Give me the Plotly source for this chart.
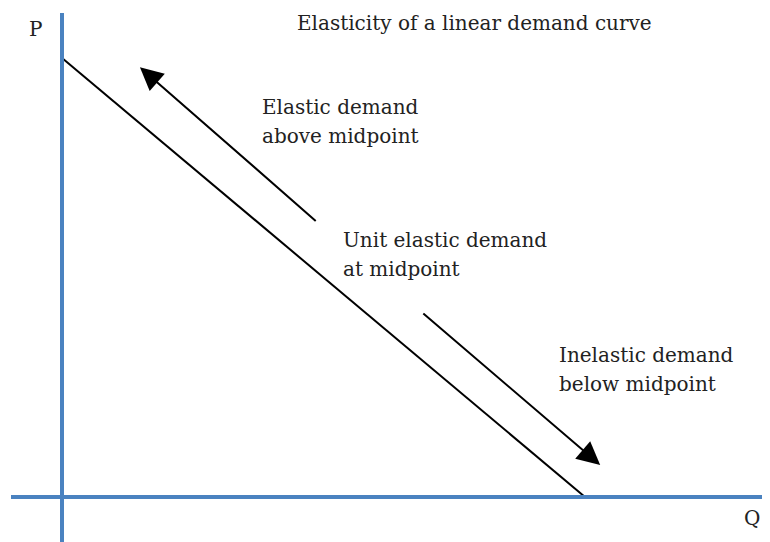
import plotly.graph_objects as go

OFF = 8  # page body margin offset of the rendered figure
W, H = 770 - OFF, 542 - OFF

# ---- data (economic units) ----
demand_q = [0, 10]          # quantity at the two ends of the linear demand curve
demand_p = [10, 0]          # price at the two ends
axis_label_p = "P"
axis_label_q = "Q"
title_text = "Elasticity of a linear demand curve"
label_upper = ["Elastic demand", "above midpoint"]
label_middle = ["Unit elastic demand", "at midpoint"]
label_lower = ["Inelastic demand", "below midpoint"]
# arrows: (tail_q, tail_p, head_q, head_p)
arrow_up = [4.88, 6.26, 1.49, 9.79]
arrow_down = [6.88, 4.21, 10.29, 0.73]

# ---- layout mapping (reference pixels -> figure pixels) ----
X0_PX, X1_PX = 62 - OFF, 585 - OFF      # pixel of Q=0 and Q=10
Y0_PX, Y1_PX = 497 - OFF, 58 - OFF      # pixel of P=0 and P=10
sx = (X1_PX - X0_PX) / 10.0
sy = (Y0_PX - Y1_PX) / 10.0
x_range = [(0 - X0_PX) / sx, (W - X0_PX) / sx]
y_range = [(Y0_PX - H) / sy, (Y0_PX - 0) / sy]

def qx(px):
    return (px - OFF - X0_PX) / sx

def py(pp):
    return (Y0_PX - (pp - OFF)) / sy

AXIS_BLUE = "#4a82c0"
FONT = "DejaVu Serif"
TXT = "#222222"

fig = go.Figure()

# demand line
fig.add_trace(go.Scatter(x=demand_q, y=demand_p, mode="lines",
                         line=dict(color="black", width=2), hoverinfo="skip",
                         showlegend=False, cliponaxis=False))

shapes = [
    dict(type="line", xref="x", yref="y", x0=0, x1=0, y0=py(H + 40), y1=py(13),
         line=dict(color=AXIS_BLUE, width=4)),
    dict(type="line", xref="x", yref="y", x0=qx(11), x1=qx(W + 40), y0=0, y1=0,
         line=dict(color=AXIS_BLUE, width=4)),
]

annotations = []
for a in (arrow_up, arrow_down):
    annotations.append(dict(x=a[2], y=a[3], ax=a[0], ay=a[1], xref="x", yref="y",
                            axref="x", ayref="y", text="", showarrow=True,
                            arrowhead=2, arrowsize=2.3, arrowwidth=2,
                            arrowcolor="black"))

def text_at(txt, xpx, ypx, size=20):
    annotations.append(dict(text=txt, x=qx(xpx), y=py(ypx), xref="x", yref="y",
                            xanchor="left", yanchor="middle", showarrow=False,
                            font=dict(family=FONT, size=size, color=TXT)))

text_at(title_text, 295, 23)
text_at(label_upper[0], 260, 107)
text_at(label_upper[1], 260, 136)
text_at(label_middle[0], 341, 240)
text_at(label_middle[1], 341, 269)
text_at(label_lower[0], 557, 355)
text_at(label_lower[1], 557, 384)
text_at(axis_label_p, 27, 29)
text_at(axis_label_q, 742, 518)

fig.update_layout(
    width=W, height=H,
    margin=dict(l=0, r=0, t=0, b=0),
    paper_bgcolor="white", plot_bgcolor="white",
    xaxis=dict(range=x_range, visible=False, fixedrange=True),
    yaxis=dict(range=y_range, visible=False, fixedrange=True),
    shapes=shapes, annotations=annotations, showlegend=False,
)

fig.write_html("out.html")
